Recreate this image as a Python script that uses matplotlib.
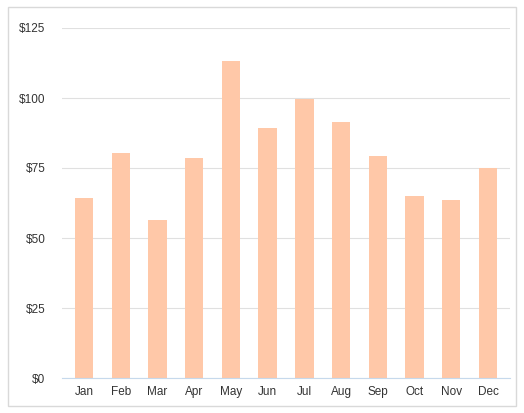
import matplotlib
matplotlib.use('Agg')
import matplotlib.pyplot as plt
from matplotlib.patches import Rectangle

plt.rcParams['font.family'] = ['Liberation Sans', 'DejaVu Sans']

months = ['Jan', 'Feb', 'Mar', 'Apr', 'May', 'Jun', 'Jul', 'Aug', 'Sep', 'Oct', 'Nov', 'Dec']
values = [64.3, 80.4, 56.4, 78.6, 113.2, 89.3, 99.6, 91.4, 79.3, 65.0, 63.6, 75.0]
yticks = [0, 25, 50, 75, 100, 125]

fig = plt.figure(figsize=(5.24, 4.13), dpi=100)
# outer border
fig.patches.append(Rectangle((8/524, 7/413), 508/524, 399/413, transform=fig.transFigure,
                             fill=False, edgecolor='#d9d9d9', linewidth=1))
ax = fig.add_axes([62/524, 35/413, 448/524, 350/413])

ax.bar(range(len(months)), values, width=0.5, color='#ffc8a8', zorder=2)
ax.set_xlim(-0.6, len(months) - 0.4)
ax.set_ylim(0, 125)
ax.set_yticks(yticks)
ax.set_yticklabels(['$%d' % v for v in yticks])
ax.set_xticks(range(len(months)))
ax.set_xticklabels(months)
ax.grid(axis='y', color='#e0e0e0', linewidth=0.8, zorder=0)
for s in ['top', 'right', 'left']:
    ax.spines[s].set_visible(False)
ax.spines['bottom'].set_color('#c6d9ec')
ax.tick_params(length=0, labelsize=8.5, colors='#333333')
ax.tick_params(axis='y', pad=12)
ax.tick_params(axis='x', pad=6)

plt.savefig('out.png')
